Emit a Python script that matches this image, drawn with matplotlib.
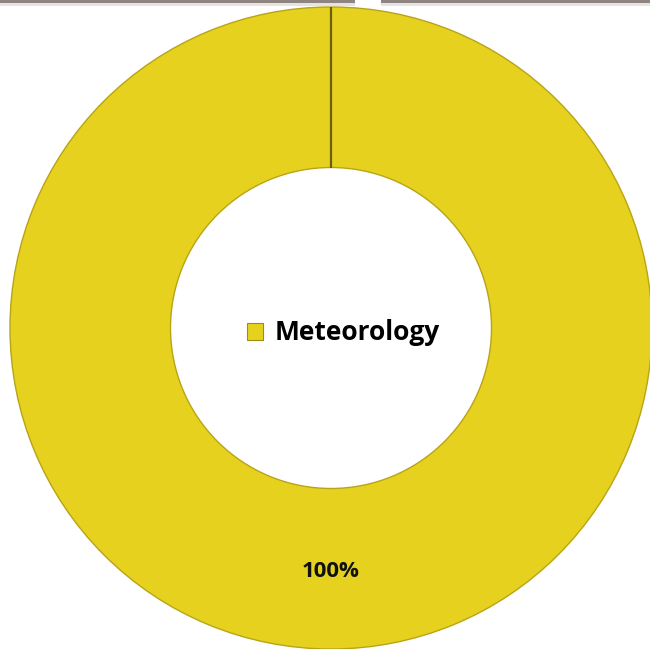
import matplotlib
matplotlib.use("Agg")
import numpy as np
import matplotlib.pyplot as plt
from matplotlib.patches import Rectangle

# data
labels = ['Meteorology']
values = [100]
colors = ['#E6D21E']

fig = plt.figure(figsize=(6.5, 6.49), dpi=100)
fig.patch.set_facecolor('white')
ax = fig.add_axes([0, 0, 1, 1])

wedges, texts, autotexts = ax.pie(
    values, colors=colors, startangle=90, counterclock=True,
    radius=1.0, autopct='%d%%', pctdistance=0.76,
    wedgeprops=dict(width=0.5, edgecolor='#b8a416', linewidth=1.0),
    textprops=dict(fontsize=16, fontweight='bold', color='#111111',
                   family=['Open Sans', 'DejaVu Sans']))

# pie centred at (0, 0), radius 1 -> 321 px; centre at pixel (331, 328 from top)
ax.set_xlim(-331 / 321, (650 - 331) / 321)
ax.set_ylim(-(649 - 328) / 321, 328 / 321)
ax.set_aspect('equal')
ax.axis('off')

# the seam where the single slice starts and ends
for w in wedges:
    a = np.deg2rad(w.theta1)
    r0, r1 = w.r - w.width, w.r
    ax.plot([w.center[0] + r0 * np.cos(a), w.center[0] + r1 * np.cos(a)],
            [w.center[1] + r0 * np.sin(a), w.center[1] + r1 * np.sin(a)],
            color='#6b5f0c', lw=1.6, solid_capstyle='butt')

leg = ax.legend(wedges, labels, loc='center', frameon=False,
                bbox_to_anchor=(343.5 / 650, (649 - 333) / 649),
                handlelength=0.62, handleheight=0.62, handletextpad=0.45,
                prop=dict(size=19, weight='bold', family=['Open Sans', 'DejaVu Sans']))
for h in leg.legend_handles:
    h.set_edgecolor('#a08c10')
    h.set_linewidth(0.8)

# grey frame edges of the surrounding screenshot at the top
fig.patches.append(Rectangle((0, 1 - 3 / 649), 355 / 650, 3 / 649, transform=fig.transFigure,
                             facecolor='#8f8580', edgecolor='none'))
fig.patches.append(Rectangle((0, 1 - 6 / 649), 355 / 650, 3 / 649, transform=fig.transFigure,
                             facecolor='#e6e4e2', edgecolor='none'))
fig.patches.append(Rectangle((381 / 650, 1 - 3 / 649), 269 / 650, 3 / 649, transform=fig.transFigure,
                             facecolor='#8f8580', edgecolor='none'))
fig.patches.append(Rectangle((381 / 650, 1 - 6 / 649), 269 / 650, 3 / 649, transform=fig.transFigure,
                             facecolor='#e6e4e2', edgecolor='none'))

fig.savefig('out.png', dpi=100, facecolor='white')
